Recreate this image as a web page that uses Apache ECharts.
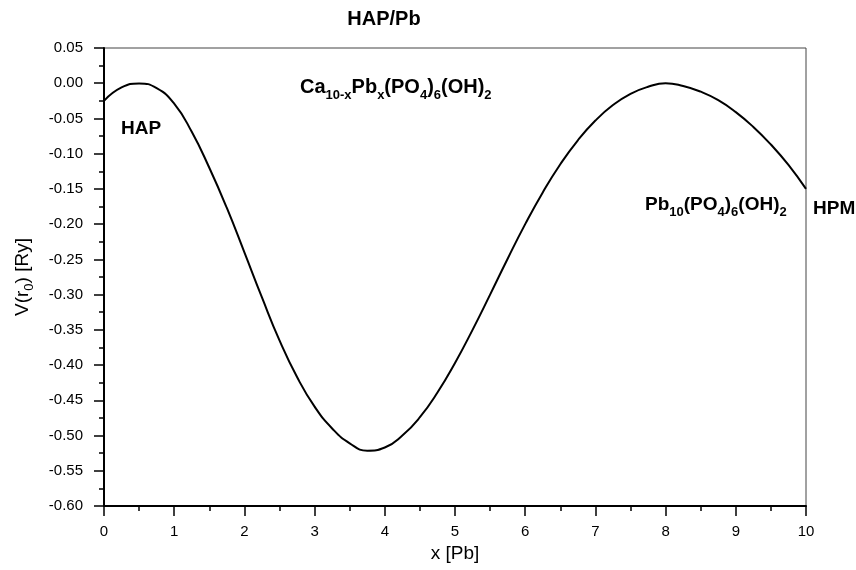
<!DOCTYPE html>
<html>
<head>
<meta charset="utf-8">
<script src="https://cdn.jsdelivr.net/npm/echarts@6/dist/echarts.min.js"></script>
<style>
  html, body { margin: 0; padding: 0; background: #fff; }
  #chart { width: 856px; height: 570px; }
</style>
</head>
<body>
<div id="chart"></div>
<script>
// x [Pb] and V(r0) [Ry]
var xPb = [0, 0.25, 0.5, 0.75, 1.0, 1.25, 1.5, 1.75, 2.0, 2.25, 2.5, 2.75, 3.0, 3.25, 3.5, 3.75,
    4.0, 4.25, 4.5, 4.75, 5.0, 5.25, 5.5, 5.75, 6.0, 6.25, 6.5, 6.75, 7.0, 7.25, 7.5, 7.75,
    8.0, 8.25, 8.5, 8.75, 9.0, 9.25, 9.5, 9.75, 10];
var vR0 = [-0.025, -0.006, -0.0003, -0.007, -0.029, -0.069, -0.120, -0.177, -0.240, -0.304, -0.365, -0.417, -0.459, -0.490, -0.511, -0.5215,
    -0.517, -0.500, -0.474, -0.439, -0.397, -0.350, -0.300, -0.249, -0.200, -0.155, -0.115, -0.081, -0.053, -0.031, -0.015, -0.005,
    0.0, -0.004, -0.012, -0.024, -0.041, -0.062, -0.087, -0.116, -0.150];

var FONT = 'Liberation Sans, Arial, sans-serif';

var pts = [];
for (var i = 0; i < xPb.length; i++) {
    pts.push([xPb[i], vR0[i]]);
}

var subStyle = function (size, pad) {
    return { fontFamily: FONT, fontWeight: 'bold', fontSize: size, lineHeight: size, padding: [pad, 0, 0, 0], fill: '#000', color: '#000' };
};
var mainStyle = function (size) {
    return { fontFamily: FONT, fontWeight: 'bold', fontSize: size, fill: '#000', color: '#000' };
};

var myChart = echarts.init(document.getElementById('chart'));
var option = {
    backgroundColor: '#fff',
    animation: false,
    grid: {
        left: 104, right: 50, top: 48, bottom: 64,
        show: true, borderColor: '#444', borderWidth: 1
    },
    xAxis: {
        type: 'value',
        min: 0, max: 10, interval: 1,
        name: 'x [Pb]',
        nameLocation: 'middle',
        nameGap: 38,
        nameTextStyle: { fontFamily: FONT, fontSize: 19, color: '#000' },
        axisLine: { onZero: false, lineStyle: { color: '#000', width: 2 } },
        axisTick: { inside: false, length: 10, lineStyle: { color: '#000', width: 1.5 } },
        minorTick: { show: true, splitNumber: 2, length: 5, lineStyle: { color: '#000', width: 1.5 } },
        axisLabel: { fontFamily: FONT, fontSize: 15, color: '#000', margin: 18 },
        splitLine: { show: false }
    },
    yAxis: {
        type: 'value',
        min: -0.6, max: 0.05, interval: 0.05,
        name: '{n|V(r}{s|0}{n|) [Ry]}',
        nameLocation: 'middle',
        nameRotate: 90,
        nameGap: 72,
        nameTextStyle: {
            fontFamily: FONT, fontSize: 19, color: '#000',
            rich: {
                n: { fontFamily: FONT, fontSize: 19, color: '#000' },
                s: { fontFamily: FONT, fontSize: 13, lineHeight: 13, padding: [14, 0, 0, 0], color: '#000' }
            }
        },
        axisLine: { onZero: false, lineStyle: { color: '#000', width: 2 } },
        axisTick: { inside: false, length: 10, lineStyle: { color: '#000', width: 1.5 } },
        minorTick: { show: true, splitNumber: 2, length: 5, lineStyle: { color: '#000', width: 1.5 } },
        axisLabel: {
            fontFamily: FONT, fontSize: 15, color: '#000', margin: 21,
            formatter: function (v) {
                if (Math.abs(v) < 1e-9) return '0.00';
                return v.toFixed(2);
            }
        },
        splitLine: { show: false }
    },
    graphic: [
        {
            type: 'text', x: 384, y: 19.5,
            style: { text: 'HAP/Pb', font: 'bold 20px ' + FONT, fill: '#000', align: 'center', verticalAlign: 'middle' }
        },
        {
            type: 'text', x: 121, y: 129,
            style: { text: 'HAP', font: 'bold 19px ' + FONT, fill: '#000', align: 'left', verticalAlign: 'middle' }
        },
        {
            type: 'text', x: 813, y: 209,
            style: { text: 'HPM', font: 'bold 19px ' + FONT, fill: '#000', align: 'left', verticalAlign: 'middle' }
        },
        {
            type: 'text', x: 300, y: 77,
            style: {
                text: '{m|Ca}{s|10-x}{m|Pb}{s|x}{m|(PO}{s|4}{m|)}{s|6}{m|(OH)}{s|2}',
                align: 'left', verticalAlign: 'top',
                rich: { m: mainStyle(20), s: subStyle(13, 16) }
            }
        },
        {
            type: 'text', x: 645, y: 195,
            style: {
                text: '{m|Pb}{s|10}{m|(PO}{s|4}{m|)}{s|6}{m|(OH)}{s|2}',
                align: 'left', verticalAlign: 'top',
                rich: { m: mainStyle(19), s: subStyle(13, 15) }
            }
        }
    ],
    series: [
        {
            type: 'line',
            data: pts,
            smooth: true,
            showSymbol: false,
            lineStyle: { color: '#000', width: 2 },
            itemStyle: { color: '#000' }
        }
    ]
};
myChart.setOption(option);
</script>
</body>
</html>
